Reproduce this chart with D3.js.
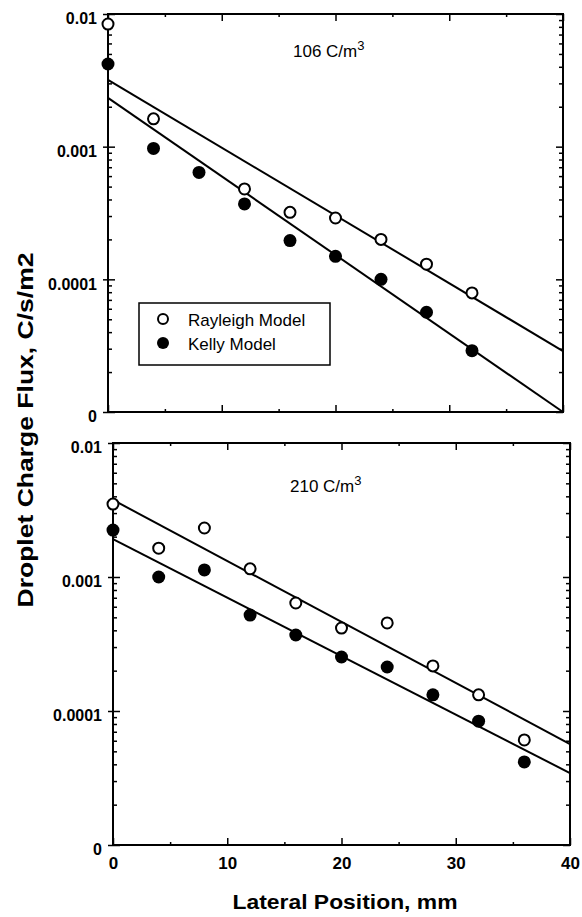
<!DOCTYPE html>
<html>
<head>
<meta charset="utf-8">
<script src="https://cdn.jsdelivr.net/npm/d3@7"></script>
<style>
  body { margin: 0; background: #fff; }
  svg { display: block; font-family: "Liberation Sans", Arial, Helvetica, sans-serif; }
</style>
</head>
<body>
<div id="chart"></div>
<script>
// Lateral positions (mm) where the flux was measured
const xTop = [0, 4, 8, 12, 16, 20, 24, 28, 32];
const xBottom = [0, 4, 8, 12, 16, 20, 24, 28, 32, 36];

// Droplet charge flux, C/s/m2 — 106 C/m3 case
const rayleighTop = [0.0084, 0.00162, null, 0.00048, 0.00032, 0.00029, 0.0002, 0.00013, 0.000079];
const kellyTop = [0.0042, 0.00097, 0.00064, 0.00037, 0.000196, 0.000149, 0.0001, 0.0000565, 0.000029];

// Droplet charge flux, C/s/m2 — 210 C/m3 case
const rayleighBottom = [0.0035, 0.00164, 0.00232, 0.00115, 0.00064, 0.000416, 0.000454, 0.000217, 0.000132, 0.0000608];
const kellyBottom = [0.00224, 0.001, 0.00113, 0.00052, 0.000369, 0.000253, 0.000213, 0.000132, 0.000084, 0.0000417];

// Fitted exponential lines (values at the ends of the x range)
const fitX = [0, 40];
const rayleighFitTop = [0.00319, 0.0000288];
const kellyFitTop = [0.00233, 0.00001];
const rayleighFitBottom = [0.00376, 0.0000567];
const kellyFitBottom = [0.00192, 0.0000344];

// Axis ticks
const yTickValues = [1e-5, 1e-4, 1e-3, 1e-2];
const yTickLabels = ['0', '0.0001', '0.001', '0.01'];
const xTickValues = [0, 10, 20, 30, 40];
const xMinorValues = [5, 15, 25, 35];

const seriesNames = ['Rayleigh Model', 'Kelly Model'];
const panelLabels = ['106 C/m', '210 C/m'];

const WIDTH = 582;
const HEIGHT = 917;

const svg = d3.select('#chart')
  .append('svg')
  .attr('width', WIDTH)
  .attr('height', HEIGHT);

const panels = [
  { box: { left: 108, right: 563, top: 14, bottom: 412 }, xs: xTop,
    rayleigh: rayleighTop, kelly: kellyTop, rFit: rayleighFitTop, kFit: kellyFitTop,
    label: panelLabels[0], labelPos: [293, 57], xLabels: false, legend: true },
  { box: { left: 113, right: 570, top: 443, bottom: 845 }, xs: xBottom,
    rayleigh: rayleighBottom, kelly: kellyBottom, rFit: rayleighFitBottom, kFit: kellyFitBottom,
    label: panelLabels[1], labelPos: [290, 492], xLabels: true, legend: false }
];

panels.forEach(p => {
  const b = p.box;
  const x = d3.scaleLinear().domain([0, 40]).range([b.left, b.right]);
  const y = d3.scaleLog().domain([1e-5, 1e-2]).range([b.bottom, b.top]);
  const g = svg.append('g');

  const allY = y.ticks();
  const minorY = allY.filter(v => !yTickValues.some(t => Math.abs(t - v) / t < 1e-6));
  const clean = sel => sel.select('.domain').remove();

  // left axis ticks
  g.append('g').attr('transform', `translate(${b.left},0)`)
    .call(d3.axisLeft(y).tickValues(minorY).tickSize(-4).tickFormat(''))
    .call(clean);
  g.append('g').attr('transform', `translate(${b.left},0)`)
    .call(d3.axisLeft(y).tickValues(yTickValues).tickSize(-7).tickFormat(''))
    .call(clean)
    .call(s => s.selectAll('line').attr('x1', -5));

  // right axis ticks
  g.append('g').attr('transform', `translate(${b.right},0)`)
    .call(d3.axisRight(y).tickValues(minorY).tickSize(-4).tickFormat(''))
    .call(clean);
  g.append('g').attr('transform', `translate(${b.right},0)`)
    .call(d3.axisRight(y).tickValues(yTickValues).tickSize(-7).tickFormat(''))
    .call(clean);

  // top and bottom ticks
  [[d3.axisBottom, b.bottom], [d3.axisTop, b.top]].forEach(([ax, pos]) => {
    g.append('g').attr('transform', `translate(0,${pos})`)
      .call(ax(x).tickValues(xTickValues).tickSize(-7).tickFormat(''))
      .call(clean);
    g.append('g').attr('transform', `translate(0,${pos})`)
      .call(ax(x).tickValues(xMinorValues).tickSize(-3).tickFormat(''))
      .call(clean);
  });

  g.selectAll('.tick line').attr('stroke', '#000').attr('stroke-width', 1.5);

  // y tick labels
  g.append('g').attr('transform', `translate(${b.left},0)`)
    .call(d3.axisLeft(y).tickValues(yTickValues).tickSize(0).tickPadding(11)
      .tickFormat((d, i) => yTickLabels[i]))
    .call(clean)
    .call(s => s.selectAll('text')
      .attr('dy', '0.62em')
      .attr('fill', '#000')
      .style('font-size', '16px')
      .style('font-weight', 'bold')
      .style('font-family', '"Liberation Sans", Arial, sans-serif'));

  // x tick labels (bottom panel only)
  if (p.xLabels) {
    g.append('g').attr('transform', `translate(0,${b.bottom})`)
      .call(d3.axisBottom(x).tickValues(xTickValues).tickSize(0).tickPadding(12))
      .call(clean)
      .call(s => s.selectAll('text')
        .attr('fill', '#000')
        .style('font-size', '17px')
        .style('font-weight', 'bold')
        .style('font-family', '"Liberation Sans", Arial, sans-serif'));
  }

  // frame
  g.append('rect')
    .attr('x', b.left).attr('y', b.top)
    .attr('width', b.right - b.left).attr('height', b.bottom - b.top)
    .attr('fill', 'none').attr('stroke', '#000').attr('stroke-width', 2);

  // fitted lines
  const line = d3.line().x(d => x(d[0])).y(d => y(d[1]));
  [p.rFit, p.kFit].forEach(fit => {
    g.append('path')
      .datum(fitX.map((v, i) => [v, fit[i]]))
      .attr('d', line)
      .attr('fill', 'none')
      .attr('stroke', '#000')
      .attr('stroke-width', 2);
  });

  // data points
  const rPts = p.xs.map((v, i) => [v, p.rayleigh[i]]).filter(d => d[1] != null);
  const kPts = p.xs.map((v, i) => [v, p.kelly[i]]).filter(d => d[1] != null);

  g.append('g').selectAll('circle')
    .data(rPts)
    .enter().append('circle')
    .attr('cx', d => x(d[0])).attr('cy', d => y(d[1]))
    .attr('r', 5.5)
    .attr('fill', '#fff').attr('stroke', '#000').attr('stroke-width', 2);

  g.append('g').selectAll('circle')
    .data(kPts)
    .enter().append('circle')
    .attr('cx', d => x(d[0])).attr('cy', d => y(d[1]))
    .attr('r', 6.5)
    .attr('fill', '#000');

  // concentration label
  const lab = g.append('text')
    .attr('x', p.labelPos[0]).attr('y', p.labelPos[1])
    .style('font-size', '17px')
    .text(p.label);
  lab.append('tspan').attr('dy', -7).style('font-size', '13px').text('3');

  // legend
  if (p.legend) {
    const lg = g.append('g').attr('transform', 'translate(139,303)');
    lg.append('rect')
      .attr('width', 191).attr('height', 62)
      .attr('fill', '#fff').attr('stroke', '#000').attr('stroke-width', 1.5);
    seriesNames.forEach((name, i) => {
      lg.append('circle')
        .attr('cx', 24).attr('cy', 16 + i * 24)
        .attr('r', i === 0 ? 5 : 6)
        .attr('fill', i === 0 ? '#fff' : '#000')
        .attr('stroke', '#000').attr('stroke-width', i === 0 ? 2 : 0);
      lg.append('text')
        .attr('x', 49).attr('y', 23 + i * 24)
        .style('font-size', '17px')
        .text(name);
    });
  }
});

// axis titles
svg.append('text')
  .attr('transform', 'translate(33,430) rotate(-90)')
  .attr('text-anchor', 'middle')
  .attr('textLength', 355)
  .attr('lengthAdjust', 'spacingAndGlyphs')
  .style('font-size', '22px')
  .style('font-weight', 'bold')
  .text('Droplet Charge Flux, C/s/m2');

svg.append('text')
  .attr('x', 345).attr('y', 909)
  .attr('text-anchor', 'middle')
  .attr('textLength', 225)
  .attr('lengthAdjust', 'spacingAndGlyphs')
  .style('font-size', '21px')
  .style('font-weight', 'bold')
  .text('Lateral Position, mm');
</script>
</body>
</html>
